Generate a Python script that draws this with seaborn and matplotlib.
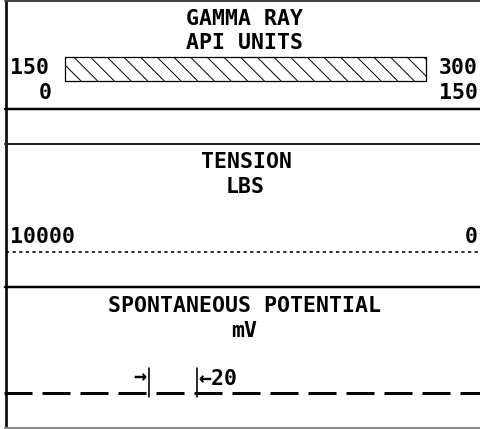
import matplotlib
matplotlib.use("Agg")
import matplotlib.pyplot as plt
import seaborn as sns
import pandas as pd

# Curve header definitions for the log heading
gr_title = ["GAMMA RAY", "API UNITS"]
gr_left_scale = ["150", "0"]
gr_right_scale = ["300", "150"]
tension_title = ["TENSION", "LBS"]
tension_scale = ["10000", "0"]
sp_title = ["SPONTANEOUS POTENTIAL", "mV"]
sp_span_mv = 20          # SP scale marker: mV between the two ticks
sp_px_per_mv = 2.4       # page units per mV on the SP track

sns.set_theme(style="white")
plt.rcParams["font.family"] = ["DejaVu Sans Mono", "DejaVu Sans"]
plt.rcParams["lines.scale_dashes"] = False
plt.rcParams["hatch.linewidth"] = 0.7
plt.rcParams["hatch.color"] = "#333333"

W, H = 480, 429
fig = plt.figure(figsize=(W / 100, H / 100), dpi=100, facecolor="white")
ax = fig.add_axes([0, 0, 1, 1])

PX = 0.72  # points per pixel at 100 dpi
font = dict(fontsize=15.5, fontweight="bold", color="black", va="baseline")


def hline(y, x0=5, x1=W, lw=2.0, color="black", ls="-"):
    df = pd.DataFrame({"x": [x0, x1], "y": [y, y]})
    sns.lineplot(data=df, x="x", y="y", ax=ax, color=color, lw=lw * PX,
                 linestyle=ls, estimator=None, sort=False, legend=False)


def vline(x, y0, y1, lw=2.0, color="black"):
    df = pd.DataFrame({"x": [x, x], "y": [y0, y1]})
    sns.lineplot(data=df, x="x", y="y", ax=ax, color=color, lw=lw * PX,
                 estimator=None, sort=False, orient="y", legend=False)


# Frame of the header
vline(5.7, 0, H, lw=2.8, color="#111111")
hline(1.2, lw=2.0, color="#444444")
hline(108.5, lw=2.5)
hline(143.5, lw=2.0, color="#222222")
hline(286.5, lw=2.5)
hline(427.5, lw=2.0, color="#888888")

# --- Gamma ray track ---
ax.text(245, 25, gr_title[0], ha="center", **font)
ax.text(245, 49, gr_title[1], ha="center", **font)
ax.text(10, 74, gr_left_scale[0], ha="left", **font)
ax.text(52, 99, gr_left_scale[1], ha="right", **font)
ax.text(478, 74, gr_right_scale[0], ha="right", **font)
ax.text(478, 99, gr_right_scale[1], ha="right", **font)
ax.barh(69, 361, height=24, left=65, color="white", edgecolor="black",
        linewidth=0.9, hatch="\\\\")

# --- Tension track ---
ax.text(246, 168, tension_title[0], ha="center", **font)
ax.text(245, 193, tension_title[1], ha="center", **font)
ax.text(10, 243, tension_scale[0], ha="left", **font)
ax.text(478, 243, tension_scale[1], ha="right", **font)
hline(252, x0=6, lw=1.6, ls=(0, (3.2 * PX, 3.4 * PX)))

# --- Spontaneous potential track ---
ax.text(245, 312, sp_title[0], ha="center", **font)
ax.text(244, 337, sp_title[1], ha="center", **font)
hline(393, x0=4, lw=3.0, ls=(0, (28 * PX, 10 * PX)))
tick_left = 149
tick_right = tick_left + sp_span_mv * sp_px_per_mv
vline(tick_left, 368, 397, lw=1.6)
vline(tick_right, 368, 397, lw=1.6)
ax.text(tick_left - 3, 383, "→", ha="right", **font)
ax.text(tick_right + 1, 385, f"←{sp_span_mv}", ha="left", **font)

ax.set_xlim(0, W)
ax.set_ylim(H, 0)
ax.set_axis_off()

fig.savefig("out.png", dpi=100, facecolor="white")
